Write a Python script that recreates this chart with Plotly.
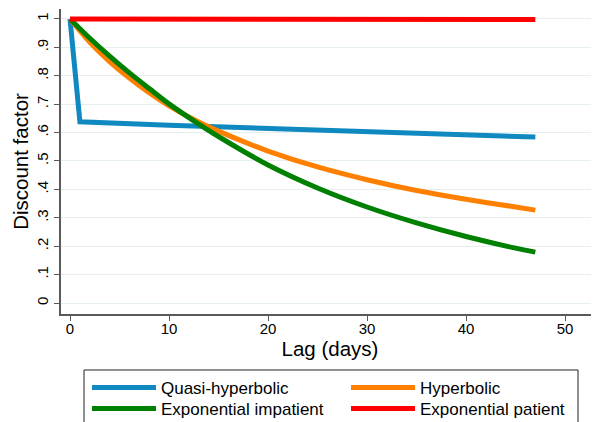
import plotly.graph_objects as go

# Data
lag_quasi = [0, 1, 10, 20, 30, 40, 47]
quasi_hyperbolic = [1.0, 0.638, 0.626, 0.614, 0.603, 0.592, 0.584]

lag_curve = [0, 2, 4, 6, 8, 10, 13, 16, 20, 25, 30, 35, 40, 45, 47]
hyperbolic = [1.0, 0.918, 0.850, 0.792, 0.740, 0.694, 0.637, 0.590, 0.535, 0.479, 0.434, 0.396, 0.365, 0.338, 0.327]
exp_impatient = [1.0, 0.932, 0.869, 0.810, 0.755, 0.701, 0.630, 0.565, 0.486, 0.405, 0.338, 0.282, 0.234, 0.193, 0.179]

lag_patient = [0, 47]
exp_patient = [1.0, 0.998]

y_ticks = [0, 0.1, 0.2, 0.3, 0.4, 0.5, 0.6, 0.7, 0.8, 0.9, 1.0]
y_tick_labels = ["0", ".1", ".2", ".3", ".4", ".5", ".6", ".7", ".8", ".9", "1"]
x_ticks = [0, 10, 20, 30, 40, 50]

FONT = "Liberation Sans, Arial, sans-serif"
LW = 5

fig = go.Figure()
fig.add_trace(go.Scatter(x=lag_quasi, y=quasi_hyperbolic, mode="lines", name="Quasi-hyperbolic",
                         line=dict(color="#0f89bf", width=LW), legend="legend"))
fig.add_trace(go.Scatter(x=lag_curve, y=hyperbolic, mode="lines", name="Hyperbolic",
                         line=dict(color="#ff8000", width=LW, shape="spline", smoothing=0.8),
                         legend="legend"))
fig.add_trace(go.Scatter(x=lag_curve, y=exp_impatient, mode="lines", name="Exponential impatient",
                         line=dict(color="#008000", width=LW, shape="spline", smoothing=0.8),
                         legend="legend2"))
fig.add_trace(go.Scatter(x=lag_patient, y=exp_patient, mode="lines", name="Exponential patient",
                         line=dict(color="#ff0000", width=LW), legend="legend2"))

# legend frame (the page body adds an 8px offset, so the figure is sized 591x414)
fig.add_shape(type="rect", xref="paper", yref="paper",
              x0=0.0428, x1=0.961, y0=-0.1836, y1=-0.45,
              line=dict(color="#222222", width=1), fillcolor="rgba(0,0,0,0)", layer="above")

legend_style = dict(orientation="h", xanchor="left", yanchor="top",
                    bgcolor="rgba(0,0,0,0)", borderwidth=0, font=dict(size=17),
                    itemwidth=64, entrywidth=180, entrywidthmode="pixels",
                    traceorder="normal")

axis_col = "#5a5a5a"
fig.update_layout(
    width=591, height=414,
    margin=dict(l=53, r=0, t=1, b=108, autoexpand=False),
    paper_bgcolor="white", plot_bgcolor="white",
    font=dict(family=FONT, color="black", size=15),
    xaxis=dict(range=[-0.91, 53.43], tickvals=x_ticks, showgrid=False, zeroline=False,
               showline=True, linecolor=axis_col, linewidth=1.5,
               ticks="outside", ticklen=5, tickwidth=1.2, tickcolor=axis_col,
               tickfont=dict(size=15), ticklabelstandoff=-5,
               title=dict(text="Lag (days)", font=dict(size=20.5), standoff=0)),
    yaxis=dict(range=[-0.0387, 1.035], tickvals=y_ticks, ticktext=y_tick_labels, tickangle=-90,
               showgrid=True, gridcolor="#e6eff0", gridwidth=1, zeroline=False,
               showline=True, linecolor=axis_col, linewidth=1.5,
               ticks="outside", ticklen=5, tickwidth=1.2, tickcolor=axis_col,
               tickfont=dict(size=15),
               title=dict(text="Discount factor", font=dict(size=20.5), standoff=0)),
    legend=dict(x=0.0483, y=-0.1836, **legend_style),
    legend2=dict(x=0.0483, y=-0.2525, **legend_style),
    showlegend=True,
)

fig.write_html("out.html")
